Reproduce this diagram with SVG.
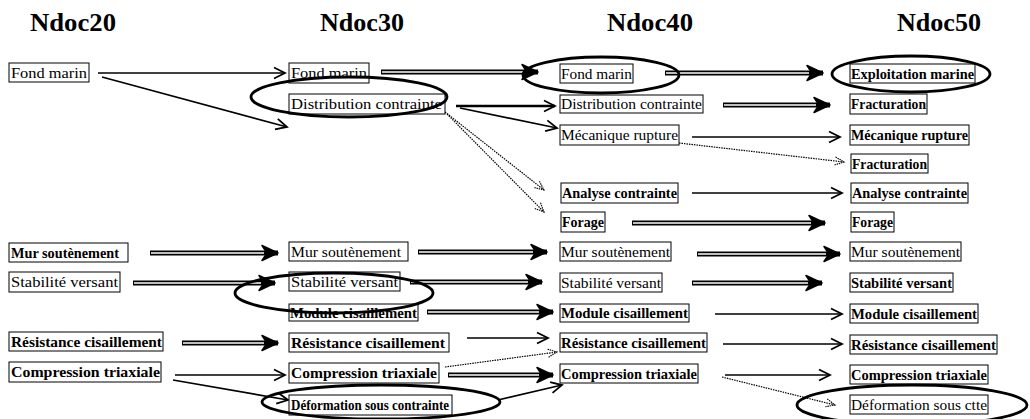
<svg xmlns="http://www.w3.org/2000/svg" width="1030" height="419" viewBox="0 0 1030 419">
<style>
  .box{fill:#fff;stroke:#000;stroke-width:1}
  .t{font-family:"Liberation Serif","Times New Roman",serif;font-size:15.5px;fill:#000}
  .b{font-weight:bold}
  .hdr{font-family:"Liberation Serif","Times New Roman",serif;font-size:26px;font-weight:bold;fill:#000}
  .s{fill:none;stroke:#000;stroke-width:1.6;marker-end:url(#open)}
  .sk{fill:none;stroke:#000;stroke-width:2.6;marker-end:url(#open)}
  .d{fill:none;stroke:#000;stroke-width:1.2;stroke-dasharray:1.5 1;marker-end:url(#dotm)}
  .dbl{fill:none;stroke:#000;stroke-width:5;marker-end:url(#fat)}
  .dbli{fill:none;stroke:#fff;stroke-width:1.5}
  .ell{fill:none;stroke:#000;stroke-width:2.8}
</style>
<defs>
  <marker id="open" markerUnits="userSpaceOnUse" markerWidth="14" markerHeight="14" refX="12" refY="7" orient="auto"><path d="M1,1.5 L12,7 L1,12.5" fill="none" stroke="#000" stroke-width="1.8"/></marker>
  <marker id="dotm" markerUnits="userSpaceOnUse" markerWidth="12" markerHeight="12" refX="10" refY="6" orient="auto"><path d="M1,2 L10,6 L1,10" fill="none" stroke="#000" stroke-width="1.1" stroke-dasharray="1.5 0.8"/></marker>
  <marker id="fat" markerUnits="userSpaceOnUse" markerWidth="20" markerHeight="20" refX="17" refY="9" orient="auto"><path d="M1,1.5 L17,9 L1,16.5 L6,9 z" fill="#000" stroke="#000" stroke-width="1.5" stroke-linejoin="round"/></marker>
</defs>
<rect width="1030" height="419" fill="#fff"/>
<g id="headers">
  <text class="hdr" x="30" y="31" textLength="86" lengthAdjust="spacingAndGlyphs">Ndoc20</text>
  <text class="hdr" x="320" y="31" textLength="84" lengthAdjust="spacingAndGlyphs">Ndoc30</text>
  <text class="hdr" x="607" y="31" textLength="86" lengthAdjust="spacingAndGlyphs">Ndoc40</text>
  <text class="hdr" x="897" y="31" textLength="84" lengthAdjust="spacingAndGlyphs">Ndoc50</text>
</g>
<g id="connectors">
  <path class="s" d="M98,73 L285,73"/>
  <path class="s" d="M102,77 L287,127"/>
  <path class="sk" d="M456,106 L555,106"/>
  <path class="s" d="M460,108 L557,128"/>
  <path class="s" d="M692,137 L840,137"/>
  <path class="s" d="M692,193 L842,193"/>
  <path class="s" d="M175,375 L285,375"/>
  <path class="s" d="M173,380 L288,400"/>
  <path class="s" d="M467,338 L548,338"/>
  <path class="s" d="M498,400 L562,385"/>
  <path class="s" d="M715,314 L842,314"/>
  <path class="s" d="M723,344 L842,344"/>
  <path class="s" d="M725,375 L830,375"/>
  <path class="d" d="M445,112 L544,190"/>
  <path class="d" d="M447,114 L544,212"/>
  <path class="d" d="M679,143 L844,162"/>
  <path class="d" d="M445,367 L557,352"/>
  <path class="d" d="M722,377 L835,405"/>
  <path class="dbl" d="M381,72 L538,72"/><path class="dbli" d="M382,72 L524,72"/>
  <path class="dbl" d="M665,73 L823,73"/><path class="dbli" d="M666,73 L809,73"/>
  <path class="dbl" d="M723,105 L830,105"/><path class="dbli" d="M724,105 L816,105"/>
  <path class="dbl" d="M632,223 L825,223"/><path class="dbli" d="M633,223 L811,223"/>
  <path class="dbl" d="M150,253 L278,253"/><path class="dbli" d="M151,253 L264,253"/>
  <path class="dbl" d="M133,283 L275,283"/><path class="dbli" d="M134,283 L261,283"/>
  <path class="dbl" d="M182,343 L278,343"/><path class="dbli" d="M183,343 L264,343"/>
  <path class="dbl" d="M418,252 L547,252"/><path class="dbli" d="M419,252 L533,252"/>
  <path class="dbl" d="M410,282 L542,282"/><path class="dbli" d="M411,282 L528,282"/>
  <path class="dbl" d="M427,312 L553,312"/><path class="dbli" d="M428,312 L539,312"/>
  <path class="dbl" d="M448,375 L553,375"/><path class="dbli" d="M449,375 L539,375"/>
  <path class="dbl" d="M697,254 L840,254"/><path class="dbli" d="M698,254 L826,254"/>
  <path class="dbl" d="M692,283 L822,283"/><path class="dbli" d="M693,283 L808,283"/>
</g>
<g id="n1a"><rect class="box" x="9" y="63" width="80" height="19"/><text class="t" x="11" y="78" textLength="76" lengthAdjust="spacingAndGlyphs">Fond  marin</text></g>
<g id="n1b"><rect class="box" x="9" y="243" width="119" height="19"/><text class="t b" x="11" y="258" textLength="108" lengthAdjust="spacingAndGlyphs">Mur soutènement</text></g>
<g id="n1c"><rect class="box" x="9" y="272" width="111" height="20"/><text class="t" x="11" y="287" textLength="107" lengthAdjust="spacingAndGlyphs">Stabilité  versant</text></g>
<g id="n1d"><rect class="box" x="9" y="332" width="154" height="19"/><text class="t b" x="11" y="347" textLength="151" lengthAdjust="spacingAndGlyphs">Résistance  cisaillement</text></g>
<g id="n1e"><rect class="box" x="9" y="362" width="152" height="20"/><text class="t b" x="11" y="377" textLength="149" lengthAdjust="spacingAndGlyphs">Compression  triaxiale</text></g>

<g id="n2a"><rect class="box" x="289" y="63" width="80" height="20"/><text class="t" x="291" y="78" textLength="76" lengthAdjust="spacingAndGlyphs">Fond  marin</text></g>
<g id="n2b"><rect class="box" x="289" y="94" width="156" height="20"/><text class="t" x="291" y="109" textLength="151" lengthAdjust="spacingAndGlyphs">Distribution  contrainte</text></g>
<g id="n2c"><rect class="box" x="289" y="242" width="119" height="19"/><text class="t" x="291" y="257" textLength="110" lengthAdjust="spacingAndGlyphs">Mur  soutènement</text></g>
<g id="n2d"><rect class="box" x="289" y="272" width="111" height="19"/><text class="t" x="291" y="287" textLength="107" lengthAdjust="spacingAndGlyphs">Stabilité  versant</text></g>
<g id="n2e"><rect class="box" x="289" y="304" width="129" height="17"/><text class="t b" x="290" y="318" textLength="127" lengthAdjust="spacingAndGlyphs">Module cisaillement</text></g>
<g id="n2f"><rect class="box" x="289" y="333" width="160" height="19"/><text class="t b" x="291" y="348" textLength="154" lengthAdjust="spacingAndGlyphs">Résistance  cisaillement</text></g>
<g id="n2g"><rect class="box" x="289" y="363" width="150" height="20"/><text class="t b" x="291" y="378" textLength="146" lengthAdjust="spacingAndGlyphs">Compression  triaxiale</text></g>
<g id="n2h"><rect class="box" x="289" y="395" width="163" height="20"/><text class="t b" x="291" y="410" textLength="158" lengthAdjust="spacingAndGlyphs">Déformation  sous contrainte</text></g>

<g id="n3a"><rect class="box" x="560" y="64" width="73" height="19"/><text class="t" x="561" y="79" textLength="71" lengthAdjust="spacingAndGlyphs">Fond marin</text></g>
<g id="n3b"><rect class="box" x="560" y="95" width="143" height="18"/><text class="t" x="561" y="109" textLength="141" lengthAdjust="spacingAndGlyphs">Distribution contrainte</text></g>
<g id="n3c"><rect class="box" x="560" y="125" width="119" height="20"/><text class="t" x="561" y="140" textLength="117" lengthAdjust="spacingAndGlyphs">Mécanique rupture</text></g>
<g id="n3d"><rect class="box" x="561" y="183" width="117" height="20"/><text class="t b" x="562" y="198" textLength="115" lengthAdjust="spacingAndGlyphs">Analyse contrainte</text></g>
<g id="n3e"><rect class="box" x="561" y="212" width="44" height="20"/><text class="t b" x="562" y="227" textLength="42" lengthAdjust="spacingAndGlyphs">Forage</text></g>
<g id="n3f"><rect class="box" x="560" y="242" width="111" height="19"/><text class="t" x="561" y="257" textLength="109" lengthAdjust="spacingAndGlyphs">Mur soutènement</text></g>
<g id="n3g"><rect class="box" x="560" y="273" width="102" height="19"/><text class="t" x="561" y="288" textLength="100" lengthAdjust="spacingAndGlyphs">Stabilité versant</text></g>
<g id="n3h"><rect class="box" x="560" y="304" width="129" height="18"/><text class="t b" x="561" y="318" textLength="127" lengthAdjust="spacingAndGlyphs">Module cisaillement</text></g>
<g id="n3i"><rect class="box" x="560" y="333" width="147" height="19"/><text class="t b" x="561" y="348" textLength="145" lengthAdjust="spacingAndGlyphs">Résistance cisaillement</text></g>
<g id="n3j"><rect class="box" x="560" y="364" width="138" height="19"/><text class="t b" x="561" y="379" textLength="136" lengthAdjust="spacingAndGlyphs">Compression triaxiale</text></g>

<g id="n4a"><rect class="box" x="850" y="64" width="125" height="19"/><text class="t b" x="851" y="79" textLength="123" lengthAdjust="spacingAndGlyphs">Exploitation marine</text></g>
<g id="n4b"><rect class="box" x="850" y="94" width="77" height="20"/><text class="t b" x="851" y="109" textLength="75" lengthAdjust="spacingAndGlyphs">Fracturation</text></g>
<g id="n4c"><rect class="box" x="850" y="125" width="119" height="20"/><text class="t b" x="851" y="140" textLength="117" lengthAdjust="spacingAndGlyphs">Mécanique rupture</text></g>
<g id="n4d"><rect class="box" x="851" y="154" width="77" height="19"/><text class="t b" x="852" y="169" textLength="75" lengthAdjust="spacingAndGlyphs">Fracturation</text></g>
<g id="n4e"><rect class="box" x="851" y="183" width="117" height="20"/><text class="t b" x="852" y="198" textLength="115" lengthAdjust="spacingAndGlyphs">Analyse contrainte</text></g>
<g id="n4f"><rect class="box" x="851" y="212" width="43" height="20"/><text class="t b" x="852" y="227" textLength="41" lengthAdjust="spacingAndGlyphs">Forage</text></g>
<g id="n4g"><rect class="box" x="850" y="242" width="111" height="19"/><text class="t" x="851" y="257" textLength="109" lengthAdjust="spacingAndGlyphs">Mur soutènement</text></g>
<g id="n4h"><rect class="box" x="850" y="273" width="103" height="19"/><text class="t b" x="851" y="288" textLength="101" lengthAdjust="spacingAndGlyphs">Stabilité versant</text></g>
<g id="n4i"><rect class="box" x="850" y="304" width="128" height="19"/><text class="t b" x="851" y="319" textLength="126" lengthAdjust="spacingAndGlyphs">Module cisaillement</text></g>
<g id="n4j"><rect class="box" x="850" y="335" width="147" height="19"/><text class="t b" x="851" y="350" textLength="145" lengthAdjust="spacingAndGlyphs">Résistance cisaillement</text></g>
<g id="n4k"><rect class="box" x="850" y="365" width="138" height="19"/><text class="t b" x="851" y="380" textLength="136" lengthAdjust="spacingAndGlyphs">Compression triaxiale</text></g>
<g id="n4l"><rect class="box" x="850" y="395" width="138" height="19"/><text class="t" x="851" y="410" textLength="136" lengthAdjust="spacingAndGlyphs">Déformation sous ctte</text></g>

<g id="highlights">
  <ellipse class="ell" cx="601" cy="75" rx="78" ry="18"/>
  <ellipse class="ell" cx="349" cy="97" rx="98" ry="20"/>
  <ellipse class="ell" cx="911" cy="74" rx="79" ry="18"/>
  <ellipse class="ell" cx="334" cy="293" rx="99" ry="20"/>
  <ellipse class="ell" cx="381" cy="402" rx="119" ry="17"/>
  <ellipse class="ell" cx="912" cy="405" rx="115" ry="20"/>
</g>
</svg>
